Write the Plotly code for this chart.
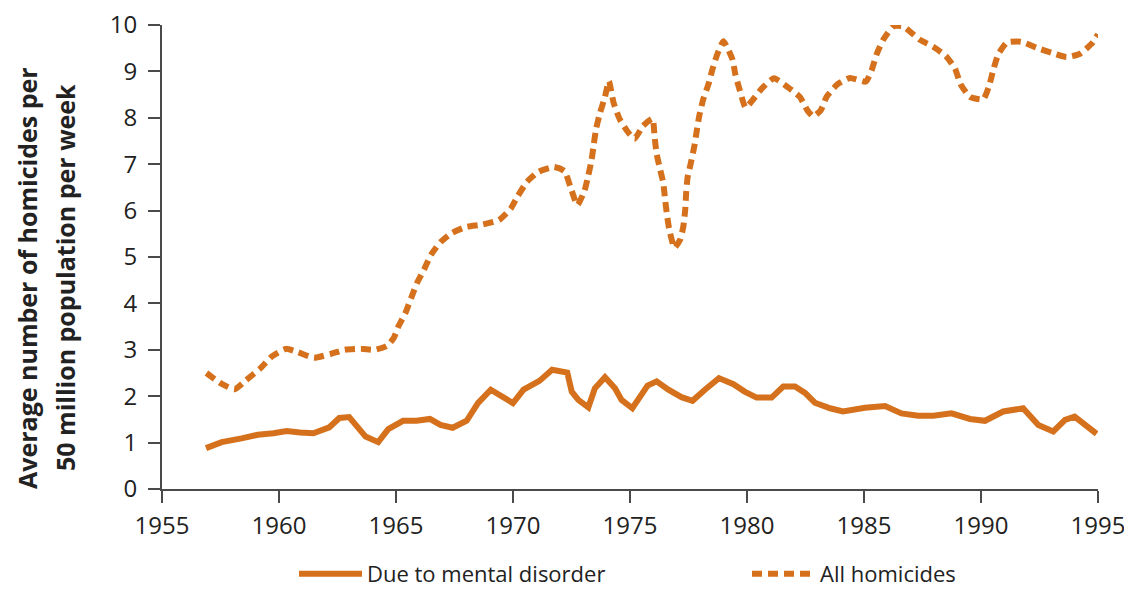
import plotly.graph_objects as go

# Due to mental disorder (solid line)
mental_years = [1956.88, 1957.55, 1958.4, 1959.1, 1959.76, 1960.33, 1960.9, 1961.47, 1962.15, 1962.58,
                1963.0, 1963.7, 1964.24, 1964.67, 1965.3, 1965.88, 1966.45, 1966.9, 1967.42, 1968.02,
                1968.5, 1969.05, 1970.0, 1970.45, 1971.13, 1971.67, 1972.32, 1972.51, 1972.79, 1973.22,
                1973.5, 1973.93, 1974.36, 1974.64, 1975.1, 1975.75, 1976.14, 1976.64, 1977.2, 1977.67,
                1978.2, 1978.8, 1979.42, 1979.9, 1980.41, 1981.05, 1981.55, 1982.05, 1982.48, 1982.9,
                1983.55, 1984.1, 1985.04, 1985.9, 1986.6, 1987.32, 1987.96, 1988.74, 1989.53, 1990.17,
                1990.95, 1991.8, 1992.45, 1993.09, 1993.59, 1994.0, 1994.94]
mental_vals = [0.88, 1.01, 1.09, 1.17, 1.20, 1.25, 1.22, 1.20, 1.33, 1.53,
               1.55, 1.13, 1.01, 1.29, 1.47, 1.47, 1.51, 1.38, 1.32, 1.47,
               1.85, 2.14, 1.85, 2.14, 2.33, 2.57, 2.51, 2.10, 1.92, 1.76,
               2.17, 2.41, 2.17, 1.92, 1.74, 2.23, 2.32, 2.14, 1.98, 1.90,
               2.14, 2.39, 2.26, 2.10, 1.97, 1.97, 2.21, 2.21, 2.07, 1.86,
               1.74, 1.67, 1.75, 1.79, 1.63, 1.58, 1.58, 1.63, 1.51, 1.47,
               1.67, 1.74, 1.38, 1.24, 1.49, 1.56, 1.19]

# All homicides (dotted line)
all_years = [1956.9, 1957.5, 1958.1, 1958.6, 1959.2, 1959.7, 1960.3, 1960.8, 1961.5, 1962.2,
             1962.8, 1963.5, 1964.1, 1964.6, 1964.9, 1965.1, 1965.4, 1965.65, 1965.9, 1966.2,
             1966.5, 1966.9, 1967.4, 1968.0, 1968.7, 1969.4, 1969.9, 1970.2, 1970.6, 1971.1,
             1971.75, 1972.2, 1972.45, 1972.75, 1973.05, 1973.22, 1973.36, 1973.45, 1973.55, 1973.72,
             1973.93, 1974.1, 1974.3, 1974.57, 1974.93, 1975.2, 1975.56, 1975.96, 1976.05, 1976.13,
             1976.27, 1976.42, 1976.5, 1976.58, 1976.68, 1976.9, 1977.14, 1977.28, 1977.36, 1977.4,
             1977.46, 1977.6, 1977.75, 1977.85, 1977.96, 1978.13, 1978.35, 1978.52, 1978.73, 1978.99,
             1979.16, 1979.38, 1979.5, 1979.7, 1979.94, 1980.27, 1980.63, 1981.15, 1981.77, 1982.26,
             1982.58, 1982.83, 1983.15, 1983.4, 1983.86, 1984.4, 1985.08, 1985.33, 1985.54, 1985.82,
             1986.25, 1986.68, 1987.39, 1987.96, 1988.5, 1988.89, 1989.13, 1989.53, 1990.1, 1990.34,
             1990.53, 1990.74, 1991.1, 1991.7, 1992.38, 1993.02, 1993.66, 1994.23, 1994.77, 1995.0]
all_vals = [2.50, 2.28, 2.15, 2.35, 2.60, 2.86, 3.02, 2.95, 2.83, 2.91,
            3.00, 3.02, 3.00, 3.08, 3.25, 3.50, 3.79, 4.12, 4.44, 4.73,
            5.05, 5.32, 5.52, 5.65, 5.70, 5.80, 6.04, 6.31, 6.62, 6.84,
            6.94, 6.85, 6.52, 6.12, 6.42, 6.76, 7.10, 7.42, 7.76, 8.11,
            8.45, 8.79, 8.32, 7.96, 7.68, 7.55, 7.83, 7.98, 7.60, 7.25,
            6.92, 6.60, 6.24, 5.91, 5.59, 5.20, 5.37, 5.66, 6.02, 6.38,
            6.71, 7.03, 7.39, 7.71, 8.04, 8.40, 8.72, 9.04, 9.37, 9.65,
            9.51, 9.26, 8.94, 8.58, 8.22, 8.40, 8.63, 8.85, 8.65, 8.45,
            8.16, 8.03, 8.16, 8.45, 8.72, 8.86, 8.78, 9.03, 9.37, 9.68,
            9.97, 9.97, 9.68, 9.53, 9.33, 9.06, 8.72, 8.45, 8.40, 8.68,
            9.04, 9.37, 9.62, 9.64, 9.51, 9.40, 9.31, 9.38, 9.62, 9.80]

x_ticks = [1955, 1960, 1965, 1970, 1975, 1980, 1985, 1990, 1995]
y_ticks = list(range(0, 11))

orange = '#D5711D'
axis_col = '#4a4a4a'
font_fam = 'Open Sans, sans-serif'

fig = go.Figure()
fig.add_trace(go.Scatter(x=mental_years, y=mental_vals, mode='lines', name='Due to mental disorder',
                         line=dict(color=orange, width=6), cliponaxis=False))
fig.add_trace(go.Scatter(x=all_years, y=all_vals, mode='lines', name='All homicides',
                         line=dict(color=orange, width=6, dash='10px,6px', shape='spline', smoothing=0.5),
                         cliponaxis=False))

fig.update_layout(
    width=1124, height=595,
    margin=dict(l=162, r=26, t=25, b=106, autoexpand=False),
    plot_bgcolor='white', paper_bgcolor='white',
    font=dict(family=font_fam, color='#222222'),
    xaxis=dict(range=[1955, 1995], tickvals=x_ticks, showgrid=False, zeroline=False,
               showline=True, linecolor=axis_col, linewidth=2, automargin=False,
               ticks='outside', ticklen=12, tickwidth=2, tickcolor=axis_col,
               tickfont=dict(size=24), ticklabelstandoff=2, ticklabeloverflow='allow'),
    yaxis=dict(range=[0, 10], tickvals=y_ticks, showgrid=False, zeroline=False,
               showline=True, linecolor=axis_col, linewidth=2, automargin=False,
               ticks='outside', ticklen=12, tickwidth=2, tickcolor=axis_col,
               tickfont=dict(size=24), ticklabelstandoff=6, ticklabeloverflow='allow'),
    showlegend=True,
    legend=dict(orientation='h', xref='container', yref='container',
                x=294 / 1124, xanchor='left', y=-0.012, yanchor='bottom',
                font=dict(size=22), itemwidth=63, entrywidth=375, entrywidthmode='pixels',
                bgcolor='rgba(0,0,0,0)'),
)

fig.add_annotation(text='<b>Average number of homicides per</b>', xref='paper', yref='paper',
                   x=(27 - 162) / 936, y=(489 - 278) / 464, textangle=-90, showarrow=False,
                   xanchor='center', yanchor='middle', font=dict(size=25, color='#222222'))
fig.add_annotation(text='<b>50 million population per week</b>', xref='paper', yref='paper',
                   x=(65 - 162) / 936, y=(489 - 278) / 464, textangle=-90, showarrow=False,
                   xanchor='center', yanchor='middle', font=dict(size=25, color='#222222'))

# page has a default body margin; drop it so the figure sits at the window origin
fig.write_html("out.html", config={'displayModeBar': False},
               post_script="document.body.style.margin='0';document.body.style.overflow='hidden';")
